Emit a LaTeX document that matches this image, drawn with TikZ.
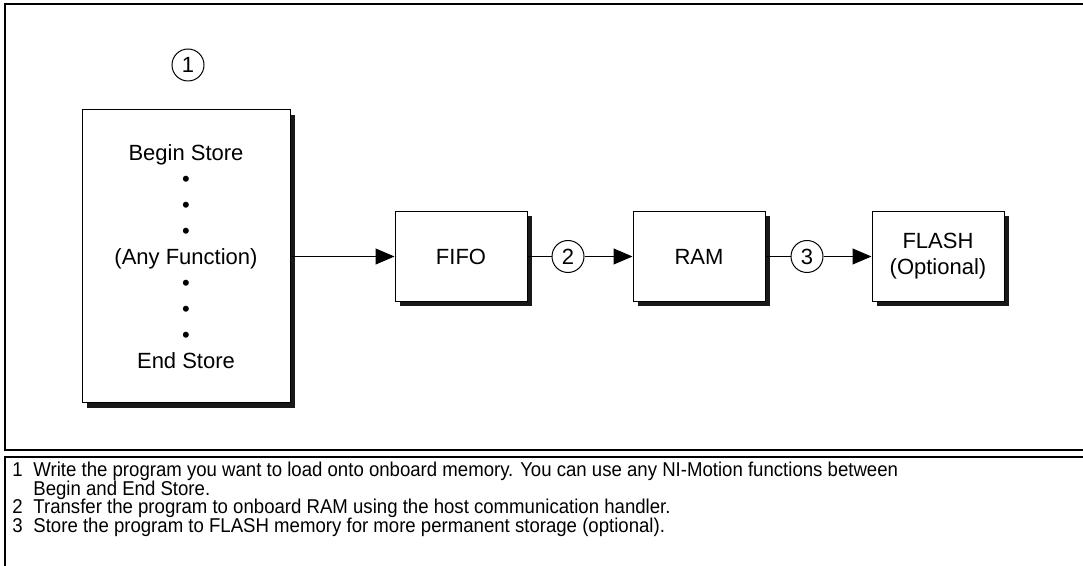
\documentclass[tikz,border=0pt]{standalone}
\usepackage{fontspec}
\setmainfont{Liberation Sans}
\newfontfamily\legendfont[FakeStretch=0.93]{Liberation Sans}
\usetikzlibrary{arrows.meta, positioning, shadows}
\tikzset{
  memblock/.style={rectangle, draw=black, fill=white, line width=0.5pt, minimum width=66pt, minimum height=45pt, align=center, font=\fontsize{11}{13}\selectfont, drop shadow={shadow xshift=2.5pt, shadow yshift=-2.5pt, fill=black!90, opacity=1}},
  callout/.style={circle, draw=black, fill=white, line width=0.5pt, minimum size=16pt, inner sep=0pt, font=\fontsize{11}{12}\selectfont},
  arrow/.style={-{Triangle[length=9.5pt,width=8pt]}, line width=0.5pt},
  line/.style={line width=0.5pt},
  frame/.style={line width=1pt},
  legend/.style={anchor=base west, inner sep=0pt, text height=7pt, text depth=1.5pt, font=\legendfont\fontsize{10}{9}\selectfont}
}

\begin{document}
\begin{tikzpicture}[x=0.5pt, y=-0.5pt]
  \useasboundingbox (0,0) rectangle (1083,566);

  % Frames
  \draw[frame] (1083,4) -- (5,4) -- (5,450) -- (1083,450);
  \draw[frame] (1083,457) -- (5,457) -- (5,566);

  % Program block
  \node[memblock, minimum width=104pt, minimum height=146.5pt] (store) at (186,256.5)
    {Begin Store\\ \textbullet\\ \textbullet\\ \textbullet\\ (Any Function)\\ \textbullet\\ \textbullet\\ \textbullet\\ End Store};
  \node[callout] (c1) at (188,65) {1};

  % Memory blocks
  \node[memblock] (fifo) at (461,256.5) {FIFO};
  \node[memblock] (ram) at (699,256.5) {RAM};
  \node[memblock] (flash) at (938,256.5) {FLASH\\(Optional)};

  % Callouts
  \node[callout] (c2) at (568,256.5) {2};
  \node[callout] (c3) at (807,256.5) {3};

  % Connectors
  \draw[arrow] (store) -- (fifo);
  \draw[line] (fifo) -- (c2);
  \draw[arrow] (c2) -- (ram);
  \draw[line] (ram) -- (c3);
  \draw[arrow] (c3) -- (flash);

  % Legend
  \node[legend] (n1) at (12,477) {1};
  \node[legend] (t1) at (33,477) {Write the program you want to load onto onboard memory. You can use any NI-Motion functions between};
  \node[legend] (t1b) at (33,495.5) {Begin and End Store.};
  \node[legend] (n2) at (12,514) {2};
  \node[legend] (t2) at (33,514) {Transfer the program to onboard RAM using the host communication handler.};
  \node[legend] (n3) at (12,532.5) {3};
  \node[legend] (t3) at (33,532.5) {Store the program to FLASH memory for more permanent storage (optional).};
\end{tikzpicture}
\end{document}
